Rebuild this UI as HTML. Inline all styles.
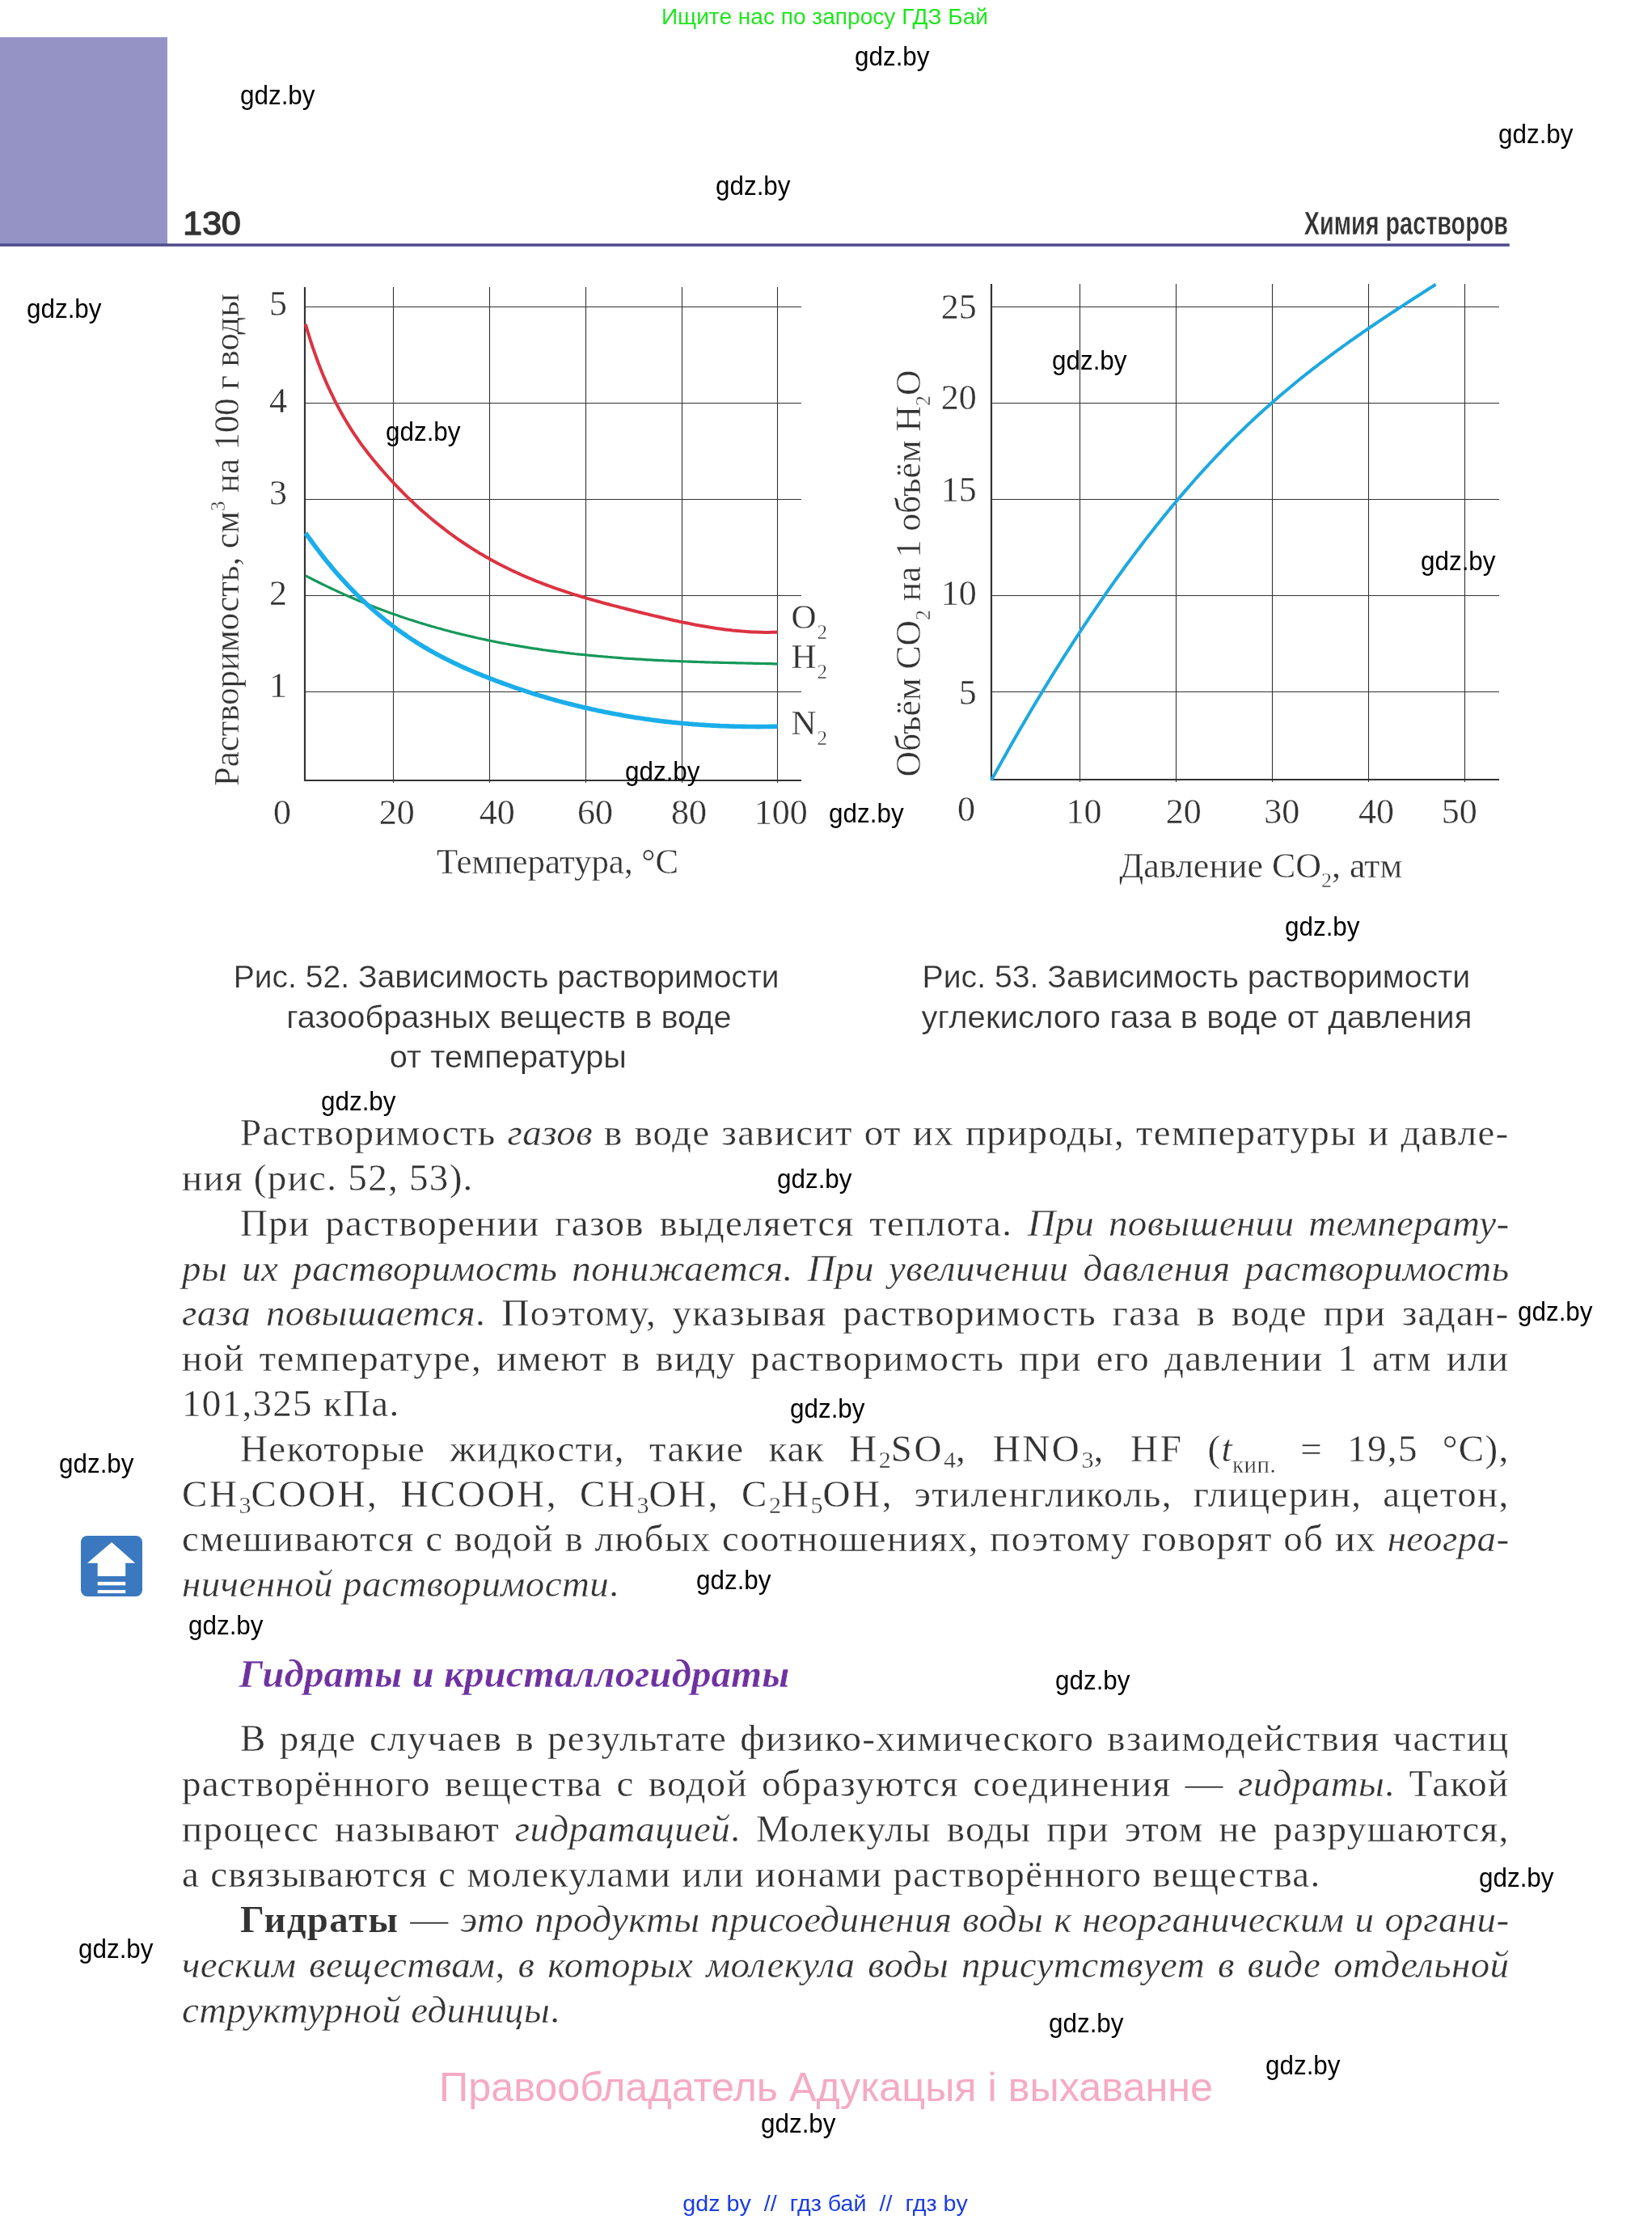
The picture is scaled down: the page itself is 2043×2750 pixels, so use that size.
<!DOCTYPE html>
<html><head><meta charset="utf-8"><style>
html,body{margin:0;padding:0;background:#fff;}
body{width:2043px;height:2750px;position:relative;overflow:hidden;}
.bl{position:absolute;white-space:nowrap;font-family:"Liberation Serif", serif;font-size:47px;line-height:44px;color:#333333;transform-origin:0 0;letter-spacing:1.3px;-webkit-text-stroke:0.35px #fff;will-change:transform;}
.bl i{font-style:italic;letter-spacing:0.4px;}
.bl b{font-weight:bold;-webkit-text-stroke:0.2px #fff;}
.sub{font-size:30px;vertical-align:-8px;line-height:0;letter-spacing:0;}
.sub2{font-size:29px;vertical-align:-14px;line-height:0;letter-spacing:0.5px;}
.f{letter-spacing:2.6px;}

svg{position:absolute;left:0;top:0;will-change:transform;}
.thin{stroke:#fff;stroke-width:0.35px;}
.thin2{stroke:#fff;stroke-width:0.25px;}
</style></head><body>
<div class="bl" style="left:297.0px;top:1378.0px;width:1569.5px;transform:scaleX(1.0000);text-align:justify;text-align-last:justify;">Растворимость <i>газов</i> в воде зависит от их природы, температуры и давле-</div><div class="bl" style="left:225.0px;top:1433.8px;width:1641.5px;transform:scaleX(1.0000);">ния (рис. 52, 53).</div><div class="bl" style="left:297.0px;top:1489.6px;width:1569.5px;transform:scaleX(1.0000);text-align:justify;text-align-last:justify;">При растворении газов выделяется теплота. <i>При повышении температу-</i></div><div class="bl" style="left:225.0px;top:1545.5px;width:1641.5px;transform:scaleX(1.0000);text-align:justify;text-align-last:justify;"><i>ры их растворимость понижается. При увеличении давления растворимость</i></div><div class="bl" style="left:225.0px;top:1601.3px;width:1641.5px;transform:scaleX(1.0000);text-align:justify;text-align-last:justify;"><i>газа повышается</i>. Поэтому, указывая растворимость газа в воде при задан-</div><div class="bl" style="left:225.0px;top:1657.1px;width:1641.5px;transform:scaleX(1.0000);text-align:justify;text-align-last:justify;">ной температуре, имеют в виду растворимость при его давлении 1 атм или</div><div class="bl" style="left:225.0px;top:1712.9px;width:1641.5px;transform:scaleX(1.0000);">101,325 кПа.</div><div class="bl" style="left:297.0px;top:1768.7px;width:1569.5px;transform:scaleX(1.0000);text-align:justify;text-align-last:justify;">Некоторые жидкости, такие как <span class="f">H<span class="sub">2</span>SO<span class="sub">4</span>, HNO<span class="sub">3</span>, HF</span> (<i>t</i><span class="sub2">кип.</span> = 19,5 °C),</div><div class="bl" style="left:225.0px;top:1824.6px;width:1641.5px;transform:scaleX(1.0000);text-align:justify;text-align-last:justify;"><span class="f">CH<span class="sub">3</span>COOH, HCOOH, CH<span class="sub">3</span>OH, C<span class="sub">2</span>H<span class="sub">5</span>OH,</span> этиленгликоль, глицерин, ацетон,</div><div class="bl" style="left:225.0px;top:1880.4px;width:1641.5px;transform:scaleX(1.0000);text-align:justify;text-align-last:justify;">смешиваются с водой в любых соотношениях, поэтому говорят об их <i>неогра-</i></div><div class="bl" style="left:225.0px;top:1936.2px;width:1641.5px;transform:scaleX(1.0000);"><i>ниченной растворимости</i>.</div><div class="bl" style="left:297.0px;top:2126.8px;width:1569.5px;transform:scaleX(1.0000);text-align:justify;text-align-last:justify;">В ряде случаев в результате физико-химического взаимодействия частиц</div><div class="bl" style="left:225.0px;top:2182.8px;width:1641.5px;transform:scaleX(1.0000);text-align:justify;text-align-last:justify;">растворённого вещества с водой образуются соединения — <i>гидраты</i>. Такой</div><div class="bl" style="left:225.0px;top:2238.7px;width:1641.5px;transform:scaleX(1.0000);text-align:justify;text-align-last:justify;">процесс называют <i>гидратацией</i>. Молекулы воды при этом не разрушаются,</div><div class="bl" style="left:225.0px;top:2294.7px;width:1641.5px;transform:scaleX(1.0000);">а связываются с молекулами или ионами растворённого вещества.</div><div class="bl" style="left:297.0px;top:2350.7px;width:1569.5px;transform:scaleX(1.0000);text-align:justify;text-align-last:justify;"><b>Гидраты</b> — <i>это продукты присоединения воды к неорганическим и органи-</i></div><div class="bl" style="left:225.0px;top:2406.7px;width:1641.5px;transform:scaleX(1.0000);text-align:justify;text-align-last:justify;"><i>ческим веществам, в которых молекула воды присутствует в виде отдельной</i></div><div class="bl" style="left:225.0px;top:2462.6px;width:1641.5px;transform:scaleX(1.0000);"><i>структурной единицы</i>.</div>
<svg width="2043" height="2750" viewBox="0 0 2043 2750">
<rect x="0" y="46" width="207" height="256" fill="#9593c5"/>
<rect x="0" y="301.2" width="1866.8" height="3.5" fill="#4e4a8b"/>
<text x="226.34" y="290.3" font-family='"Liberation Sans", sans-serif' font-size="41.5" fill="#333" stroke="#333" stroke-width="1.4" stroke-linejoin="round" textLength="71.43" lengthAdjust="spacingAndGlyphs">130</text>
<text x="1612.85" y="290" font-family='"Liberation Sans", sans-serif' font-size="41" font-weight="bold" fill="#333" text-anchor="start" textLength="252.18" lengthAdjust="spacingAndGlyphs" class="thin">Химия растворов</text>
<text x="817.91" y="29.8" font-family='"Liberation Sans", sans-serif' font-size="28.5" font-weight="normal" fill="#1ee61e" text-anchor="start" textLength="404.03" lengthAdjust="spacingAndGlyphs" >Ищите нас по запросу ГДЗ Бай</text>
<line x1="486.5" y1="355" x2="486.5" y2="968" stroke="#333333" stroke-width="1.1"/>
<line x1="605.5" y1="355" x2="605.5" y2="968" stroke="#333333" stroke-width="1.1"/>
<line x1="724.5" y1="355" x2="724.5" y2="968" stroke="#333333" stroke-width="1.1"/>
<line x1="843.5" y1="355" x2="843.5" y2="968" stroke="#333333" stroke-width="1.1"/>
<line x1="961.5" y1="355" x2="961.5" y2="968" stroke="#333333" stroke-width="1.1"/>
<line x1="377" y1="379.5" x2="991" y2="379.5" stroke="#333333" stroke-width="1.1"/>
<line x1="377" y1="498.5" x2="991" y2="498.5" stroke="#333333" stroke-width="1.1"/>
<line x1="377" y1="617.5" x2="991" y2="617.5" stroke="#333333" stroke-width="1.1"/>
<line x1="377" y1="736.5" x2="991" y2="736.5" stroke="#333333" stroke-width="1.1"/>
<line x1="377" y1="855.5" x2="991" y2="855.5" stroke="#333333" stroke-width="1.1"/>
<line x1="377" y1="355" x2="377" y2="966" stroke="#333333" stroke-width="2.2"/>
<line x1="376" y1="965" x2="991" y2="965" stroke="#333333" stroke-width="2.2"/>
<path d="M377.9,711.8 L380.9,713.4 L383.9,714.9 L386.9,716.5 L389.9,718.0 L392.9,719.5 L395.9,721.0 L398.9,722.5 L401.9,723.9 L404.9,725.4 L407.9,726.8 L410.9,728.2 L413.9,729.6 L416.9,731.0 L419.9,732.4 L422.9,733.8 L425.9,735.1 L428.9,736.4 L431.9,737.7 L434.9,739.0 L437.9,740.3 L440.9,741.6 L443.9,742.9 L446.9,744.1 L449.9,745.3 L452.9,746.5 L455.9,747.8 L458.9,748.9 L461.9,750.1 L464.9,751.3 L467.9,752.4 L470.9,753.6 L473.9,754.7 L476.9,755.8 L479.9,756.9 L482.9,758.0 L485.9,759.0 L488.9,760.1 L491.9,761.1 L494.9,762.2 L497.9,763.2 L500.9,764.2 L503.9,765.2 L506.9,766.2 L509.9,767.1 L512.9,768.1 L515.9,769.0 L518.9,770.0 L521.9,770.9 L524.9,771.8 L527.9,772.7 L530.9,773.6 L533.9,774.5 L536.9,775.3 L539.9,776.2 L542.9,777.0 L545.9,777.8 L548.9,778.7 L551.9,779.5 L554.9,780.3 L557.9,781.1 L560.9,781.8 L563.9,782.6 L566.9,783.3 L569.9,784.1 L572.9,784.8 L575.9,785.5 L578.9,786.2 L581.9,786.9 L584.9,787.6 L587.9,788.3 L590.9,789.0 L593.9,789.6 L596.9,790.3 L599.9,790.9 L602.9,791.6 L605.9,792.2 L608.9,792.8 L611.9,793.4 L614.9,794.0 L617.9,794.6 L620.9,795.1 L623.9,795.7 L626.9,796.3 L629.9,796.8 L632.9,797.3 L635.9,797.9 L638.9,798.4 L641.9,798.9 L644.9,799.4 L647.9,799.9 L650.9,800.4 L653.9,800.9 L656.9,801.3 L659.9,801.8 L662.9,802.2 L665.9,802.7 L668.9,803.1 L671.9,803.6 L674.9,804.0 L677.9,804.4 L680.9,804.8 L683.9,805.2 L686.9,805.6 L689.9,806.0 L692.9,806.3 L695.9,806.7 L698.9,807.1 L701.9,807.4 L704.9,807.8 L707.9,808.1 L710.9,808.5 L713.9,808.8 L716.9,809.1 L719.9,809.4 L722.9,809.7 L725.9,810.0 L728.9,810.3 L731.9,810.6 L734.9,810.9 L737.9,811.2 L740.9,811.5 L743.9,811.7 L746.9,812.0 L749.9,812.2 L752.9,812.5 L755.9,812.7 L758.9,813.0 L761.9,813.2 L764.9,813.4 L767.9,813.6 L770.9,813.9 L773.9,814.1 L776.9,814.3 L779.9,814.5 L782.9,814.7 L785.9,814.9 L788.9,815.1 L791.9,815.2 L794.9,815.4 L797.9,815.6 L800.9,815.8 L803.9,815.9 L806.9,816.1 L809.9,816.3 L812.9,816.4 L815.9,816.6 L818.9,816.7 L821.9,816.9 L824.9,817.0 L827.9,817.1 L830.9,817.3 L833.9,817.4 L836.9,817.5 L839.9,817.6 L842.9,817.8 L845.9,817.9 L848.9,818.0 L851.9,818.1 L854.9,818.2 L857.9,818.3 L860.9,818.4 L863.9,818.5 L866.9,818.6 L869.9,818.7 L872.9,818.8 L875.9,818.9 L878.9,819.0 L881.9,819.1 L884.9,819.1 L887.9,819.2 L890.9,819.3 L893.9,819.4 L896.9,819.5 L899.9,819.5 L902.9,819.6 L905.9,819.7 L908.9,819.7 L911.9,819.8 L914.9,819.9 L917.9,819.9 L920.9,820.0 L923.9,820.1 L926.9,820.1 L929.9,820.2 L932.9,820.3 L935.9,820.3 L938.9,820.4 L941.9,820.5 L944.9,820.5 L947.9,820.6 L950.9,820.6 L953.9,820.7 L956.9,820.8 L959.9,820.8 L961.7,820.9" fill="none" stroke="#16985a" stroke-width="3.2"/>
<path d="M377.9,659.1 L380.9,663.3 L383.9,667.5 L386.9,671.6 L389.9,675.7 L392.9,679.6 L395.9,683.6 L398.9,687.4 L401.9,691.2 L404.9,694.9 L407.9,698.6 L410.9,702.2 L413.9,705.7 L416.9,709.2 L419.9,712.6 L422.9,715.9 L425.9,719.2 L428.9,722.5 L431.9,725.6 L434.9,728.8 L437.9,731.8 L440.9,734.9 L443.9,737.8 L446.9,740.7 L449.9,743.6 L452.9,746.4 L455.9,749.2 L458.9,751.9 L461.9,754.5 L464.9,757.1 L467.9,759.7 L470.9,762.2 L473.9,764.7 L476.9,767.1 L479.9,769.5 L482.9,771.8 L485.9,774.1 L488.9,776.3 L491.9,778.6 L494.9,780.7 L497.9,782.8 L500.9,784.9 L503.9,787.0 L506.9,789.0 L509.9,791.0 L512.9,792.9 L515.9,794.8 L518.9,796.7 L521.9,798.5 L524.9,800.3 L527.9,802.0 L530.9,803.8 L533.9,805.5 L536.9,807.1 L539.9,808.8 L542.9,810.4 L545.9,812.0 L548.9,813.5 L551.9,815.1 L554.9,816.6 L557.9,818.0 L560.9,819.5 L563.9,820.9 L566.9,822.3 L569.9,823.7 L572.9,825.1 L575.9,826.4 L578.9,827.7 L581.9,829.0 L584.9,830.3 L587.9,831.6 L590.9,832.8 L593.9,834.0 L596.9,835.3 L599.9,836.5 L602.9,837.6 L605.9,838.8 L608.9,840.0 L611.9,841.1 L614.9,842.3 L617.9,843.4 L620.9,844.5 L623.9,845.6 L626.9,846.7 L629.9,847.7 L632.9,848.8 L635.9,849.8 L638.9,850.9 L641.9,851.9 L644.9,852.9 L647.9,853.9 L650.9,854.9 L653.9,855.9 L656.9,856.8 L659.9,857.8 L662.9,858.7 L665.9,859.6 L668.9,860.5 L671.9,861.4 L674.9,862.3 L677.9,863.2 L680.9,864.1 L683.9,864.9 L686.9,865.7 L689.9,866.6 L692.9,867.4 L695.9,868.2 L698.9,869.0 L701.9,869.8 L704.9,870.5 L707.9,871.3 L710.9,872.1 L713.9,872.8 L716.9,873.5 L719.9,874.2 L722.9,874.9 L725.9,875.6 L728.9,876.3 L731.9,877.0 L734.9,877.6 L737.9,878.3 L740.9,878.9 L743.9,879.5 L746.9,880.2 L749.9,880.8 L752.9,881.3 L755.9,881.9 L758.9,882.5 L761.9,883.1 L764.9,883.6 L767.9,884.1 L770.9,884.7 L773.9,885.2 L776.9,885.7 L779.9,886.2 L782.9,886.7 L785.9,887.2 L788.9,887.6 L791.9,888.1 L794.9,888.5 L797.9,889.0 L800.9,889.4 L803.9,889.8 L806.9,890.2 L809.9,890.6 L812.9,891.0 L815.9,891.4 L818.9,891.7 L821.9,892.1 L824.9,892.4 L827.9,892.7 L830.9,893.1 L833.9,893.4 L836.9,893.7 L839.9,894.0 L842.9,894.3 L845.9,894.5 L848.9,894.8 L851.9,895.1 L854.9,895.3 L857.9,895.6 L860.9,895.8 L863.9,896.0 L866.9,896.2 L869.9,896.4 L872.9,896.6 L875.9,896.8 L878.9,897.0 L881.9,897.1 L884.9,897.3 L887.9,897.4 L890.9,897.6 L893.9,897.7 L896.9,897.8 L899.9,897.9 L902.9,898.0 L905.9,898.1 L908.9,898.2 L911.9,898.3 L914.9,898.3 L917.9,898.4 L920.9,898.4 L923.9,898.5 L926.9,898.5 L929.9,898.5 L932.9,898.5 L935.9,898.6 L938.9,898.6 L941.9,898.5 L944.9,898.5 L947.9,898.5 L950.9,898.5 L953.9,898.4 L956.9,898.4 L959.9,898.3 L961.7,898.3" fill="none" stroke="#1badea" stroke-width="5.6"/>
<path d="M377.8,400.9 L380.8,410.9 L383.8,420.5 L386.8,429.6 L389.8,438.2 L392.8,446.5 L395.8,454.4 L398.8,461.9 L401.8,469.0 L404.8,475.9 L407.8,482.4 L410.8,488.7 L413.8,494.8 L416.8,500.6 L419.8,506.3 L422.8,511.7 L425.8,517.0 L428.8,522.0 L431.8,526.9 L434.8,531.7 L437.8,536.3 L440.8,540.7 L443.8,545.1 L446.8,549.3 L449.8,553.4 L452.8,557.3 L455.8,561.2 L458.8,565.0 L461.8,568.7 L464.8,572.3 L467.8,575.9 L470.8,579.4 L473.8,582.8 L476.8,586.2 L479.8,589.5 L482.8,592.8 L485.8,596.1 L488.8,599.3 L491.8,602.4 L494.8,605.5 L497.8,608.6 L500.8,611.6 L503.8,614.6 L506.8,617.5 L509.8,620.3 L512.8,623.2 L515.8,625.9 L518.8,628.7 L521.8,631.4 L524.8,634.0 L527.8,636.6 L530.8,639.2 L533.8,641.7 L536.8,644.2 L539.8,646.6 L542.8,649.0 L545.8,651.4 L548.8,653.7 L551.8,656.0 L554.8,658.3 L557.8,660.5 L560.8,662.7 L563.8,664.8 L566.8,666.9 L569.8,669.0 L572.8,671.0 L575.8,673.0 L578.8,675.0 L581.8,676.9 L584.8,678.9 L587.8,680.7 L590.8,682.6 L593.8,684.4 L596.8,686.1 L599.8,687.9 L602.8,689.6 L605.8,691.3 L608.8,693.0 L611.8,694.6 L614.8,696.2 L617.8,697.8 L620.8,699.3 L623.8,700.8 L626.8,702.3 L629.8,703.8 L632.8,705.2 L635.8,706.6 L638.8,708.0 L641.8,709.4 L644.8,710.8 L647.8,712.1 L650.8,713.4 L653.8,714.7 L656.8,715.9 L659.8,717.1 L662.8,718.4 L665.8,719.5 L668.8,720.7 L671.8,721.9 L674.8,723.0 L677.8,724.1 L680.8,725.2 L683.8,726.3 L686.8,727.4 L689.8,728.4 L692.8,729.4 L695.8,730.4 L698.8,731.4 L701.8,732.4 L704.8,733.4 L707.8,734.3 L710.8,735.3 L713.8,736.2 L716.8,737.1 L719.8,738.0 L722.8,738.9 L725.8,739.8 L728.8,740.7 L731.8,741.5 L734.8,742.4 L737.8,743.2 L740.8,744.0 L743.8,744.9 L746.8,745.7 L749.8,746.5 L752.8,747.3 L755.8,748.1 L758.8,748.9 L761.8,749.6 L764.8,750.4 L767.8,751.2 L770.8,751.9 L773.8,752.7 L776.8,753.5 L779.8,754.2 L782.8,755.0 L785.8,755.7 L788.8,756.5 L791.8,757.2 L794.8,758.0 L797.8,758.7 L800.8,759.4 L803.8,760.2 L806.8,760.9 L809.8,761.6 L812.8,762.3 L815.8,763.0 L818.8,763.7 L821.8,764.4 L824.8,765.1 L827.8,765.8 L830.8,766.5 L833.8,767.2 L836.8,767.8 L839.8,768.5 L842.8,769.1 L845.8,769.7 L848.8,770.3 L851.8,770.9 L854.8,771.5 L857.8,772.1 L860.8,772.7 L863.8,773.3 L866.8,773.8 L869.8,774.3 L872.8,774.8 L875.8,775.3 L878.8,775.8 L881.8,776.3 L884.8,776.8 L887.8,777.2 L890.8,777.6 L893.8,778.0 L896.8,778.4 L899.8,778.8 L902.8,779.1 L905.8,779.5 L908.8,779.8 L911.8,780.1 L914.8,780.3 L917.8,780.6 L920.8,780.8 L923.8,781.0 L926.8,781.2 L929.8,781.4 L932.8,781.5 L935.8,781.6 L938.8,781.7 L941.8,781.8 L944.8,781.9 L947.8,781.9 L950.8,781.9 L953.8,781.8 L956.8,781.8 L959.8,781.7 L961.7,781.6" fill="none" stroke="#dc3342" stroke-width="4"/>
<text class="thin" x="355" y="389.7" font-family='"Liberation Serif", serif' font-size="44" font-style="normal" font-weight="normal" fill="#333333" text-anchor="end" >5</text>
<text class="thin" x="355" y="509.7" font-family='"Liberation Serif", serif' font-size="44" font-style="normal" font-weight="normal" fill="#333333" text-anchor="end" >4</text>
<text class="thin" x="355" y="624.4" font-family='"Liberation Serif", serif' font-size="44" font-style="normal" font-weight="normal" fill="#333333" text-anchor="end" >3</text>
<text class="thin" x="355" y="748.1" font-family='"Liberation Serif", serif' font-size="44" font-style="normal" font-weight="normal" fill="#333333" text-anchor="end" >2</text>
<text class="thin" x="355" y="862.3" font-family='"Liberation Serif", serif' font-size="44" font-style="normal" font-weight="normal" fill="#333333" text-anchor="end" >1</text>
<text class="thin" x="349" y="1018.5" font-family='"Liberation Serif", serif' font-size="44" font-style="normal" font-weight="normal" fill="#333333" text-anchor="middle" >0</text>
<text class="thin" x="490.7" y="1018.5" font-family='"Liberation Serif", serif' font-size="44" font-style="normal" font-weight="normal" fill="#333333" text-anchor="middle" >20</text>
<text class="thin" x="614.8" y="1018.5" font-family='"Liberation Serif", serif' font-size="44" font-style="normal" font-weight="normal" fill="#333333" text-anchor="middle" >40</text>
<text class="thin" x="736" y="1018.5" font-family='"Liberation Serif", serif' font-size="44" font-style="normal" font-weight="normal" fill="#333333" text-anchor="middle" >60</text>
<text class="thin" x="852" y="1018.5" font-family='"Liberation Serif", serif' font-size="44" font-style="normal" font-weight="normal" fill="#333333" text-anchor="middle" >80</text>
<text class="thin" x="965.7" y="1018.5" font-family='"Liberation Serif", serif' font-size="44" font-style="normal" font-weight="normal" fill="#333333" text-anchor="middle" >100</text>
<text class="thin" x="540" y="1080" font-family='"Liberation Serif", serif' font-size="44" font-style="normal" font-weight="normal" fill="#333333" text-anchor="start" textLength="299" lengthAdjust="spacingAndGlyphs" >Температура, °C</text>
<text class="thin" x="978.5" y="777.1" font-family='"Liberation Serif", serif' font-size="43" font-style="normal" font-weight="normal" fill="#333333" text-anchor="start" >O</text>
<text class="thin" x="1010.5" y="790.1" font-family='"Liberation Serif", serif' font-size="25" font-style="normal" font-weight="normal" fill="#333333" text-anchor="start" >2</text>
<text class="thin" x="978.5" y="826.1" font-family='"Liberation Serif", serif' font-size="43" font-style="normal" font-weight="normal" fill="#333333" text-anchor="start" >H</text>
<text class="thin" x="1010.5" y="839.1" font-family='"Liberation Serif", serif' font-size="25" font-style="normal" font-weight="normal" fill="#333333" text-anchor="start" >2</text>
<text class="thin" x="978.5" y="907.7" font-family='"Liberation Serif", serif' font-size="43" font-style="normal" font-weight="normal" fill="#333333" text-anchor="start" >N</text>
<text class="thin" x="1010.5" y="920.7" font-family='"Liberation Serif", serif' font-size="25" font-style="normal" font-weight="normal" fill="#333333" text-anchor="start" >2</text>
<g transform="translate(295.1,972) rotate(-90)"><text class="thin" x="0" y="0" font-family='"Liberation Serif", serif' font-size="44" fill="#333333" textLength="609" lengthAdjust="spacingAndGlyphs">Растворимость, см<tspan font-size="26" dy="-17">3</tspan><tspan dy="17"> на 100 г воды</tspan></text></g>
<line x1="1335.5" y1="351" x2="1335.5" y2="967" stroke="#333333" stroke-width="1.1"/>
<line x1="1454.5" y1="351" x2="1454.5" y2="967" stroke="#333333" stroke-width="1.1"/>
<line x1="1573.5" y1="351" x2="1573.5" y2="967" stroke="#333333" stroke-width="1.1"/>
<line x1="1692.5" y1="351" x2="1692.5" y2="967" stroke="#333333" stroke-width="1.1"/>
<line x1="1811.5" y1="351" x2="1811.5" y2="967" stroke="#333333" stroke-width="1.1"/>
<line x1="1226" y1="379.5" x2="1854" y2="379.5" stroke="#333333" stroke-width="1.1"/>
<line x1="1226" y1="498.5" x2="1854" y2="498.5" stroke="#333333" stroke-width="1.1"/>
<line x1="1226" y1="617.5" x2="1854" y2="617.5" stroke="#333333" stroke-width="1.1"/>
<line x1="1226" y1="736.5" x2="1854" y2="736.5" stroke="#333333" stroke-width="1.1"/>
<line x1="1226" y1="855.5" x2="1854" y2="855.5" stroke="#333333" stroke-width="1.1"/>
<line x1="1226" y1="351" x2="1226" y2="965" stroke="#333333" stroke-width="2.2"/>
<line x1="1225" y1="964" x2="1854" y2="964" stroke="#333333" stroke-width="2.2"/>
<path d="M1226.0,964.8 L1229.0,959.3 L1232.0,953.9 L1235.0,948.5 L1238.0,943.1 L1241.0,937.7 L1244.0,932.4 L1247.0,927.0 L1250.0,921.8 L1253.0,916.5 L1256.0,911.2 L1259.0,906.0 L1262.0,900.8 L1265.0,895.7 L1268.0,890.5 L1271.0,885.4 L1274.0,880.3 L1277.0,875.3 L1280.0,870.2 L1283.0,865.2 L1286.0,860.2 L1289.0,855.2 L1292.0,850.3 L1295.0,845.4 L1298.0,840.5 L1301.0,835.6 L1304.0,830.8 L1307.0,826.0 L1310.0,821.2 L1313.0,816.4 L1316.0,811.7 L1319.0,807.0 L1322.0,802.3 L1325.0,797.6 L1328.0,793.0 L1331.0,788.4 L1334.0,783.8 L1337.0,779.2 L1340.0,774.7 L1343.0,770.2 L1346.0,765.7 L1349.0,761.2 L1352.0,756.8 L1355.0,752.4 L1358.0,748.0 L1361.0,743.6 L1364.0,739.3 L1367.0,734.9 L1370.0,730.7 L1373.0,726.4 L1376.0,722.2 L1379.0,717.9 L1382.0,713.8 L1385.0,709.6 L1388.0,705.5 L1391.0,701.3 L1394.0,697.3 L1397.0,693.2 L1400.0,689.1 L1403.0,685.1 L1406.0,681.1 L1409.0,677.2 L1412.0,673.2 L1415.0,669.3 L1418.0,665.4 L1421.0,661.6 L1424.0,657.7 L1427.0,653.9 L1430.0,650.1 L1433.0,646.4 L1436.0,642.6 L1439.0,638.9 L1442.0,635.2 L1445.0,631.5 L1448.0,627.9 L1451.0,624.3 L1454.0,620.7 L1457.0,617.1 L1460.0,613.6 L1463.0,610.1 L1466.0,606.6 L1469.0,603.1 L1472.0,599.7 L1475.0,596.2 L1478.0,592.8 L1481.0,589.5 L1484.0,586.1 L1487.0,582.8 L1490.0,579.5 L1493.0,576.3 L1496.0,573.0 L1499.0,569.8 L1502.0,566.6 L1505.0,563.4 L1508.0,560.3 L1511.0,557.1 L1514.0,554.0 L1517.0,551.0 L1520.0,547.9 L1523.0,544.9 L1526.0,541.9 L1529.0,538.9 L1532.0,536.0 L1535.0,533.1 L1538.0,530.2 L1541.0,527.3 L1544.0,524.4 L1547.0,521.6 L1550.0,518.8 L1553.0,516.0 L1556.0,513.2 L1559.0,510.5 L1562.0,507.8 L1565.0,505.1 L1568.0,502.4 L1571.0,499.7 L1574.0,497.1 L1577.0,494.5 L1580.0,491.9 L1583.0,489.3 L1586.0,486.7 L1589.0,484.2 L1592.0,481.7 L1595.0,479.2 L1598.0,476.7 L1601.0,474.2 L1604.0,471.8 L1607.0,469.3 L1610.0,466.9 L1613.0,464.5 L1616.0,462.1 L1619.0,459.8 L1622.0,457.4 L1625.0,455.1 L1628.0,452.8 L1631.0,450.5 L1634.0,448.2 L1637.0,445.9 L1640.0,443.6 L1643.0,441.4 L1646.0,439.2 L1649.0,436.9 L1652.0,434.7 L1655.0,432.5 L1658.0,430.3 L1661.0,428.2 L1664.0,426.0 L1667.0,423.9 L1670.0,421.7 L1673.0,419.6 L1676.0,417.5 L1679.0,415.4 L1682.0,413.3 L1685.0,411.2 L1688.0,409.2 L1691.0,407.1 L1694.0,405.0 L1697.0,403.0 L1700.0,401.0 L1703.0,398.9 L1706.0,396.9 L1709.0,394.9 L1712.0,392.9 L1715.0,390.9 L1718.0,388.9 L1721.0,386.9 L1724.0,385.0 L1727.0,383.0 L1730.0,381.0 L1733.0,379.1 L1736.0,377.1 L1739.0,375.2 L1742.0,373.2 L1745.0,371.3 L1748.0,369.3 L1751.0,367.4 L1754.0,365.5 L1757.0,363.6 L1760.0,361.6 L1763.0,359.7 L1766.0,357.8 L1769.0,355.9 L1772.0,354.0 L1775.0,352.0 L1775.6,351.7" fill="none" stroke="#1ea8de" stroke-width="4"/>
<text class="thin" x="1207.7" y="394.3" font-family='"Liberation Serif", serif' font-size="44" font-style="normal" font-weight="normal" fill="#333333" text-anchor="end" >25</text>
<text class="thin" x="1207.7" y="505.9" font-family='"Liberation Serif", serif' font-size="44" font-style="normal" font-weight="normal" fill="#333333" text-anchor="end" >20</text>
<text class="thin" x="1207.7" y="619.8" font-family='"Liberation Serif", serif' font-size="44" font-style="normal" font-weight="normal" fill="#333333" text-anchor="end" >15</text>
<text class="thin" x="1207.7" y="748" font-family='"Liberation Serif", serif' font-size="44" font-style="normal" font-weight="normal" fill="#333333" text-anchor="end" >10</text>
<text class="thin" x="1207.7" y="871.2" font-family='"Liberation Serif", serif' font-size="44" font-style="normal" font-weight="normal" fill="#333333" text-anchor="end" >5</text>
<text class="thin" x="1195" y="1014.5" font-family='"Liberation Serif", serif' font-size="44" font-style="normal" font-weight="normal" fill="#333333" text-anchor="middle" >0</text>
<text class="thin" x="1340.6" y="1018" font-family='"Liberation Serif", serif' font-size="44" font-style="normal" font-weight="normal" fill="#333333" text-anchor="middle" >10</text>
<text class="thin" x="1463.7" y="1018" font-family='"Liberation Serif", serif' font-size="44" font-style="normal" font-weight="normal" fill="#333333" text-anchor="middle" >20</text>
<text class="thin" x="1585.3" y="1018" font-family='"Liberation Serif", serif' font-size="44" font-style="normal" font-weight="normal" fill="#333333" text-anchor="middle" >30</text>
<text class="thin" x="1702" y="1018" font-family='"Liberation Serif", serif' font-size="44" font-style="normal" font-weight="normal" fill="#333333" text-anchor="middle" >40</text>
<text class="thin" x="1804.7" y="1018" font-family='"Liberation Serif", serif' font-size="44" font-style="normal" font-weight="normal" fill="#333333" text-anchor="middle" >50</text>
<text class="thin" x="1384.3" y="1084.7" font-family='"Liberation Serif", serif' font-size="44" fill="#333333" textLength="350" lengthAdjust="spacingAndGlyphs">Давление CO<tspan font-size="26" dy="12">2</tspan><tspan dy="-12">, атм</tspan></text>
<g transform="translate(1138.2,960.6) rotate(-90)"><text class="thin" x="0" y="0" font-family='"Liberation Serif", serif' font-size="44" fill="#333333" textLength="503" lengthAdjust="spacingAndGlyphs">Объём CO<tspan font-size="26" dy="12">2</tspan><tspan dy="-12"> на 1 объём H</tspan><tspan font-size="26" dy="12">2</tspan><tspan dy="-12">O</tspan></text></g>
<text x="288.70" y="1220.7" font-family='"Liberation Sans", sans-serif' font-size="39.5" font-weight="normal" fill="#333" text-anchor="start" textLength="674.91" lengthAdjust="spacingAndGlyphs" class="thin2">Рис. 52. Зависимость растворимости</text>
<text x="354.16" y="1270.5" font-family='"Liberation Sans", sans-serif' font-size="39.5" font-weight="normal" fill="#333" text-anchor="start" textLength="550.49" lengthAdjust="spacingAndGlyphs" class="thin2">газообразных веществ в воде</text>
<text x="481.85" y="1320.2" font-family='"Liberation Sans", sans-serif' font-size="39.5" font-weight="normal" fill="#333" text-anchor="start" textLength="292.99" lengthAdjust="spacingAndGlyphs" class="thin2">от температуры</text>
<text x="1140.49" y="1220.7" font-family='"Liberation Sans", sans-serif' font-size="39.5" font-weight="normal" fill="#333" text-anchor="start" textLength="677.63" lengthAdjust="spacingAndGlyphs" class="thin2">Рис. 53. Зависимость растворимости</text>
<text x="1139.40" y="1270.5" font-family='"Liberation Sans", sans-serif' font-size="39.5" font-weight="normal" fill="#333" text-anchor="start" textLength="681.06" lengthAdjust="spacingAndGlyphs" class="thin2">углекислого газа в воде от давления</text>
<text class="thin" x="295.58" y="2085.8" font-family='"Liberation Serif", serif' font-size="48" font-style="italic" font-weight="bold" fill="#6e32a0" text-anchor="start" textLength="680.71" lengthAdjust="spacingAndGlyphs" >Гидраты и кристаллогидраты</text>
<rect x="100" y="1899" width="76" height="75" rx="8" fill="#3a78c0"/>
<path d="M138.1,1906.9 L167.2,1932.7 L155.2,1932.7 L155.2,1949 L120.7,1949 L120.7,1932.7 L108,1932.7 Z" fill="#fff"/>
<rect x="120.7" y="1955.9" width="34.5" height="4.4" fill="#fff"/>
<rect x="120.7" y="1966.1" width="34.5" height="4.0" fill="#fff"/>
<text x="542.94" y="2597.9" font-family='"Liberation Sans", sans-serif' font-size="50" font-weight="normal" fill="#f5aac3" text-anchor="start" textLength="957.18" lengthAdjust="spacingAndGlyphs" >Правообладатель Адукацыя і выхаванне</text>
<text x="844.31" y="2733.8" font-family='"Liberation Sans", sans-serif' font-size="28.5" font-weight="normal" fill="#1a3de0" text-anchor="start" textLength="352.55" lengthAdjust="spacingAndGlyphs" >gdz by&#160;&#160;//&#160;&#160;гдз бай&#160;&#160;//&#160;&#160;гдз by</text>
<text x="1056.98" y="80.8" font-family='"Liberation Sans", sans-serif' font-size="33" font-weight="normal" fill="#000" text-anchor="start" textLength="92.58" lengthAdjust="spacingAndGlyphs" >gdz.by</text>
<text x="296.98" y="128.79999999999998" font-family='"Liberation Sans", sans-serif' font-size="33" font-weight="normal" fill="#000" text-anchor="start" textLength="92.58" lengthAdjust="spacingAndGlyphs" >gdz.by</text>
<text x="1852.98" y="176.79999999999998" font-family='"Liberation Sans", sans-serif' font-size="33" font-weight="normal" fill="#000" text-anchor="start" textLength="92.58" lengthAdjust="spacingAndGlyphs" >gdz.by</text>
<text x="884.98" y="240.79999999999998" font-family='"Liberation Sans", sans-serif' font-size="33" font-weight="normal" fill="#000" text-anchor="start" textLength="92.58" lengthAdjust="spacingAndGlyphs" >gdz.by</text>
<text x="32.98" y="392.8" font-family='"Liberation Sans", sans-serif' font-size="33" font-weight="normal" fill="#000" text-anchor="start" textLength="92.58" lengthAdjust="spacingAndGlyphs" >gdz.by</text>
<text x="476.98" y="544.8000000000001" font-family='"Liberation Sans", sans-serif' font-size="33" font-weight="normal" fill="#000" text-anchor="start" textLength="92.58" lengthAdjust="spacingAndGlyphs" >gdz.by</text>
<text x="1300.98" y="456.8" font-family='"Liberation Sans", sans-serif' font-size="33" font-weight="normal" fill="#000" text-anchor="start" textLength="92.58" lengthAdjust="spacingAndGlyphs" >gdz.by</text>
<text x="1756.98" y="704.8000000000001" font-family='"Liberation Sans", sans-serif' font-size="33" font-weight="normal" fill="#000" text-anchor="start" textLength="92.58" lengthAdjust="spacingAndGlyphs" >gdz.by</text>
<text x="772.98" y="964.8000000000001" font-family='"Liberation Sans", sans-serif' font-size="33" font-weight="normal" fill="#000" text-anchor="start" textLength="92.58" lengthAdjust="spacingAndGlyphs" >gdz.by</text>
<text x="1025.08" y="1017.0" font-family='"Liberation Sans", sans-serif' font-size="33" font-weight="normal" fill="#000" text-anchor="start" textLength="92.58" lengthAdjust="spacingAndGlyphs" >gdz.by</text>
<text x="1588.98" y="1156.8" font-family='"Liberation Sans", sans-serif' font-size="33" font-weight="normal" fill="#000" text-anchor="start" textLength="92.58" lengthAdjust="spacingAndGlyphs" >gdz.by</text>
<text x="396.98" y="1372.8" font-family='"Liberation Sans", sans-serif' font-size="33" font-weight="normal" fill="#000" text-anchor="start" textLength="92.58" lengthAdjust="spacingAndGlyphs" >gdz.by</text>
<text x="960.98" y="1468.8" font-family='"Liberation Sans", sans-serif' font-size="33" font-weight="normal" fill="#000" text-anchor="start" textLength="92.58" lengthAdjust="spacingAndGlyphs" >gdz.by</text>
<text x="1876.98" y="1632.8" font-family='"Liberation Sans", sans-serif' font-size="33" font-weight="normal" fill="#000" text-anchor="start" textLength="92.58" lengthAdjust="spacingAndGlyphs" >gdz.by</text>
<text x="976.98" y="1752.8" font-family='"Liberation Sans", sans-serif' font-size="33" font-weight="normal" fill="#000" text-anchor="start" textLength="92.58" lengthAdjust="spacingAndGlyphs" >gdz.by</text>
<text x="72.98" y="1820.8" font-family='"Liberation Sans", sans-serif' font-size="33" font-weight="normal" fill="#000" text-anchor="start" textLength="92.58" lengthAdjust="spacingAndGlyphs" >gdz.by</text>
<text x="860.98" y="1964.8" font-family='"Liberation Sans", sans-serif' font-size="33" font-weight="normal" fill="#000" text-anchor="start" textLength="92.58" lengthAdjust="spacingAndGlyphs" >gdz.by</text>
<text x="232.98" y="2020.8" font-family='"Liberation Sans", sans-serif' font-size="33" font-weight="normal" fill="#000" text-anchor="start" textLength="92.58" lengthAdjust="spacingAndGlyphs" >gdz.by</text>
<text x="1304.98" y="2088.7999999999997" font-family='"Liberation Sans", sans-serif' font-size="33" font-weight="normal" fill="#000" text-anchor="start" textLength="92.58" lengthAdjust="spacingAndGlyphs" >gdz.by</text>
<text x="1828.98" y="2332.7999999999997" font-family='"Liberation Sans", sans-serif' font-size="33" font-weight="normal" fill="#000" text-anchor="start" textLength="92.58" lengthAdjust="spacingAndGlyphs" >gdz.by</text>
<text x="96.98" y="2420.7999999999997" font-family='"Liberation Sans", sans-serif' font-size="33" font-weight="normal" fill="#000" text-anchor="start" textLength="92.58" lengthAdjust="spacingAndGlyphs" >gdz.by</text>
<text x="1296.98" y="2512.7999999999997" font-family='"Liberation Sans", sans-serif' font-size="33" font-weight="normal" fill="#000" text-anchor="start" textLength="92.58" lengthAdjust="spacingAndGlyphs" >gdz.by</text>
<text x="1564.98" y="2564.7999999999997" font-family='"Liberation Sans", sans-serif' font-size="33" font-weight="normal" fill="#000" text-anchor="start" textLength="92.58" lengthAdjust="spacingAndGlyphs" >gdz.by</text>
<text x="940.98" y="2636.7999999999997" font-family='"Liberation Sans", sans-serif' font-size="33" font-weight="normal" fill="#000" text-anchor="start" textLength="92.58" lengthAdjust="spacingAndGlyphs" >gdz.by</text>
</svg>
</body></html>
